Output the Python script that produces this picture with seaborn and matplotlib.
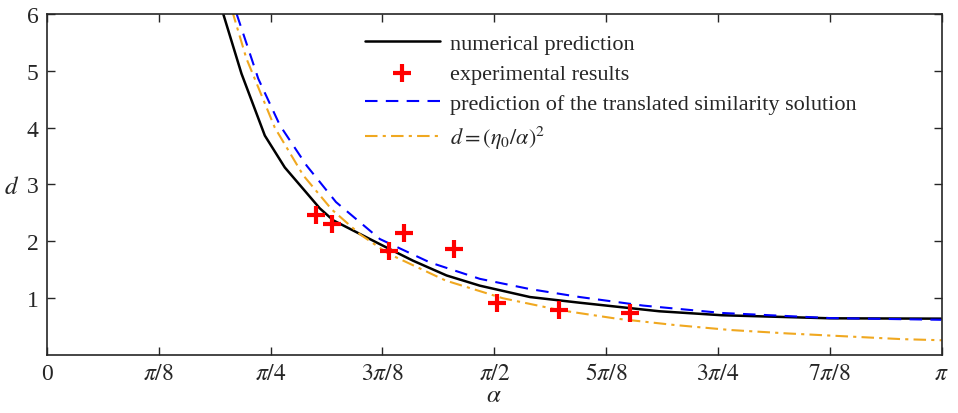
import numpy as np
import matplotlib
matplotlib.use("Agg")
import matplotlib.pyplot as plt
import seaborn as sns

# numerical prediction (solid black)
num_alpha = [0.619, 0.683, 0.765, 0.835, 0.900, 0.958, 1.005, 1.169, 1.285, 1.403,
             1.520, 1.696, 1.871, 2.15, 2.37, 2.75, 3.14]
num_d = [6.0, 4.95, 3.86, 3.30, 2.92, 2.58, 2.37, 1.95, 1.66, 1.40,
         1.22, 1.02, 0.92, 0.77, 0.70, 0.646, 0.64]

# experimental results (red crosses)
exp_alpha = [0.944, 1.000, 1.200, 1.253, 1.429, 1.580, 1.797, 2.046]
exp_d = [2.46, 2.31, 1.83, 2.15, 1.87, 0.92, 0.79, 0.74]

# translated similarity solution (blue dashed)
sim_alpha = [0.666, 0.742, 0.818, 0.912, 1.015, 1.169, 1.344, 1.520,
             1.696, 1.871, 2.093, 2.37, 2.75, 3.14]
sim_d = [6.0, 4.86, 4.04, 3.33, 2.69, 2.04, 1.63, 1.34,
         1.16, 1.02, 0.87, 0.74, 0.65, 0.62]

# d = (eta0/alpha)^2 (orange dash-dot)
fit_alpha = [0.65, 0.7, 0.8, 0.9, 1.0, 1.1, 1.2, 1.4, 1.6, 1.8, 2.0, 2.2, 2.4,
             2.6, 2.8, 3.0, 3.1416]
fit_d = [6.06, 5.22, 4.00, 3.16, 2.56, 2.12, 1.78, 1.31, 1.00, 0.79, 0.64, 0.53,
         0.44, 0.38, 0.33, 0.28, 0.26]

xtick_vals = [i * np.pi / 8 for i in range(9)]
xtick_labels = ["0", r"$\pi/8$", r"$\pi/4$", r"$3\pi/8$", r"$\pi/2$",
                r"$5\pi/8$", r"$3\pi/4$", r"$7\pi/8$", r"$\pi$"]
ytick_vals = [1, 2, 3, 4, 5, 6]

sns.set_style("ticks")
plt.rcParams["font.family"] = ["Liberation Serif", "DejaVu Serif"]
plt.rcParams["mathtext.fontset"] = "stix"
plt.rcParams["font.size"] = 16

fig, ax = plt.subplots(figsize=(9.58, 4.14), dpi=100)
fig.subplots_adjust(left=0.049, right=0.983, bottom=0.140, top=0.964)

sns.lineplot(x=num_alpha, y=num_d, ax=ax, color="black", lw=1.8,
             sort=False, label="numerical prediction")
sns.scatterplot(x=exp_alpha, y=exp_d, ax=ax, color="red", marker="+",
                s=160, linewidth=3, label="experimental results", zorder=5)
sns.lineplot(x=sim_alpha, y=sim_d, ax=ax, color="blue", lw=1.5,
             sort=False, label="prediction of the translated similarity solution")
ax.lines[-1].set_dashes([6, 4])
sns.lineplot(x=fit_alpha, y=fit_d, ax=ax, color="#f0a820", lw=1.5,
             sort=False, label=r"$d = (\eta_0/\alpha)^2$")
ax.lines[-1].set_dashes([6, 2.5, 1.5, 2.5])

ax.set_xlim(0, np.pi)
ax.set_ylim(0, 6)
ax.set_xticks(xtick_vals)
ax.set_xticklabels(xtick_labels)
ax.set_yticks(ytick_vals)
ax.tick_params(direction="in", top=True, right=True, length=6, width=1,
               labelsize=17, pad=6)
for s in ax.spines.values():
    s.set_linewidth(1.2)

ax.set_xlabel(r"$\alpha$", fontsize=18, labelpad=0)
ax.set_ylabel(r"$d$", fontsize=18, rotation=0)
ax.yaxis.set_label_coords(-0.04, 0.46)

leg = ax.legend(loc="upper left", bbox_to_anchor=(0.355, 0.943), frameon=False,
                handlelength=3.4, handletextpad=0.45, borderpad=0, borderaxespad=0,
                labelspacing=0.43, fontsize=16)

fig.savefig("out.png", dpi=100)
